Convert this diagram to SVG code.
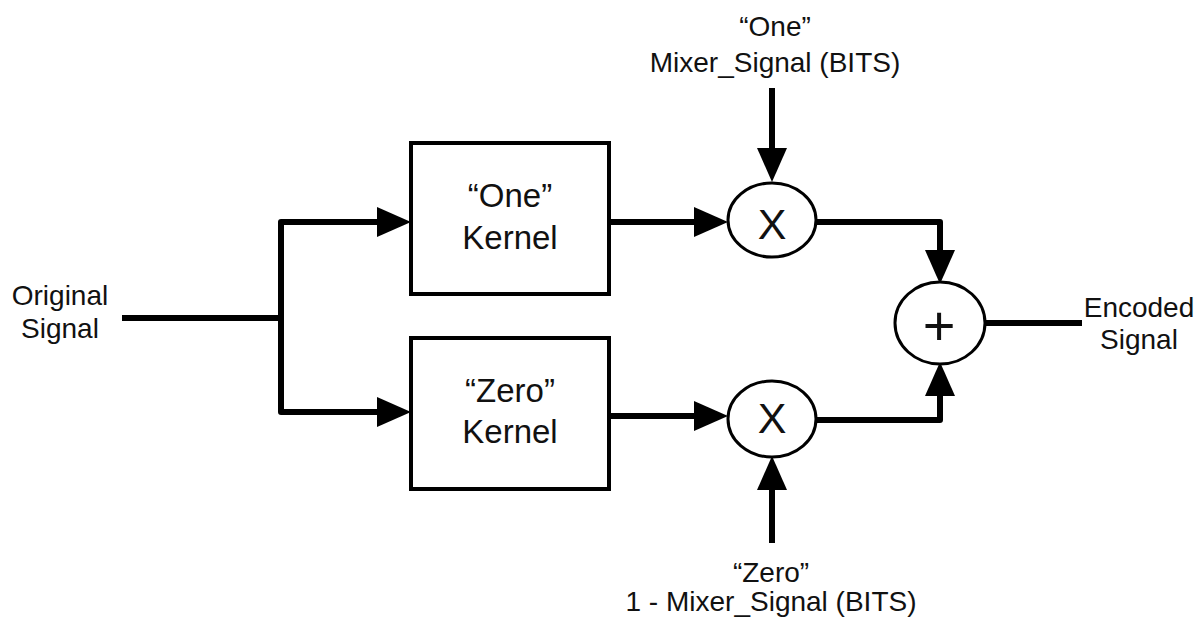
<svg xmlns="http://www.w3.org/2000/svg" width="1201" height="619" viewBox="0 0 1201 619">
<defs>
<style>
.box{fill:#fff;stroke:#000;stroke-width:4}
.op{fill:#fff;stroke:#000;stroke-width:3}
.wire{fill:none;stroke:#000;stroke-width:6;stroke-linejoin:round}
.lbl{font-family:"Liberation Sans",Arial,sans-serif;font-size:28px;fill:#111;text-anchor:middle}
.klbl{font-family:"Liberation Sans",Arial,sans-serif;font-size:33px;fill:#111;text-anchor:middle}
.sym{font-family:"Liberation Sans",Arial,sans-serif;font-size:43px;fill:#111;text-anchor:middle}
</style>
<marker id="ah" markerUnits="userSpaceOnUse" viewBox="0 0 34 30" refX="4" refY="15" markerWidth="34" markerHeight="30" orient="auto-start-reverse">
<path d="M0,0 L34,15 L0,30 z" fill="#000"/>
</marker>
</defs>
<rect width="1201" height="619" fill="#fff"/>
<g id="connectors">
<path class="wire" d="M122,318 H281"/>
<path class="wire" d="M381,222 H281 V412 H381" marker-start="url(#ah)" marker-end="url(#ah)"/>
<path class="wire" d="M609,222 H698" marker-end="url(#ah)"/>
<path class="wire" d="M609,416 H698" marker-end="url(#ah)"/>
<path class="wire" d="M772,88 V152" marker-end="url(#ah)"/>
<path class="wire" d="M772,543 V486" marker-end="url(#ah)"/>
<path class="wire" d="M817,222 H940 V254" marker-end="url(#ah)"/>
<path class="wire" d="M817,420 H940 V392" marker-end="url(#ah)"/>
<path class="wire" d="M985,323 H1082"/>
</g>
<g id="one-kernel">
<rect class="box" x="411" y="143" width="198" height="151"/>
<text class="klbl" x="510" y="207">“One”</text>
<text class="klbl" x="510" y="249">Kernel</text>
</g>
<g id="zero-kernel">
<rect class="box" x="411" y="338" width="198" height="151"/>
<text class="klbl" x="510" y="402">“Zero”</text>
<text class="klbl" x="510" y="443">Kernel</text>
</g>
<g id="mult-one">
<ellipse class="op" cx="772" cy="220" rx="44" ry="37"/>
<text class="sym" x="772" y="239">X</text>
</g>
<g id="mult-zero">
<ellipse class="op" cx="772" cy="419" rx="44" ry="38"/>
<text class="sym" x="772" y="433">X</text>
</g>
<g id="sum">
<ellipse class="op" cx="940" cy="323" rx="45" ry="41"/>
<text class="sym" x="939" y="345" style="font-size:56px">+</text>
</g>
<g id="original-signal">
<text class="lbl" x="60" y="305">Original</text>
<text class="lbl" x="60" y="338">Signal</text>
</g>
<g id="encoded-signal">
<text class="lbl" x="1139" y="317">Encoded</text>
<text class="lbl" x="1139" y="349">Signal</text>
</g>
<g id="one-mixer">
<text class="lbl" x="775" y="36">“One”</text>
<text class="lbl" x="775" y="72">Mixer_Signal (BITS)</text>
</g>
<g id="zero-mixer">
<text class="lbl" x="771" y="582">“Zero”</text>
<text class="lbl" x="771" y="611">1 - Mixer_Signal (BITS)</text>
</g>
</svg>
